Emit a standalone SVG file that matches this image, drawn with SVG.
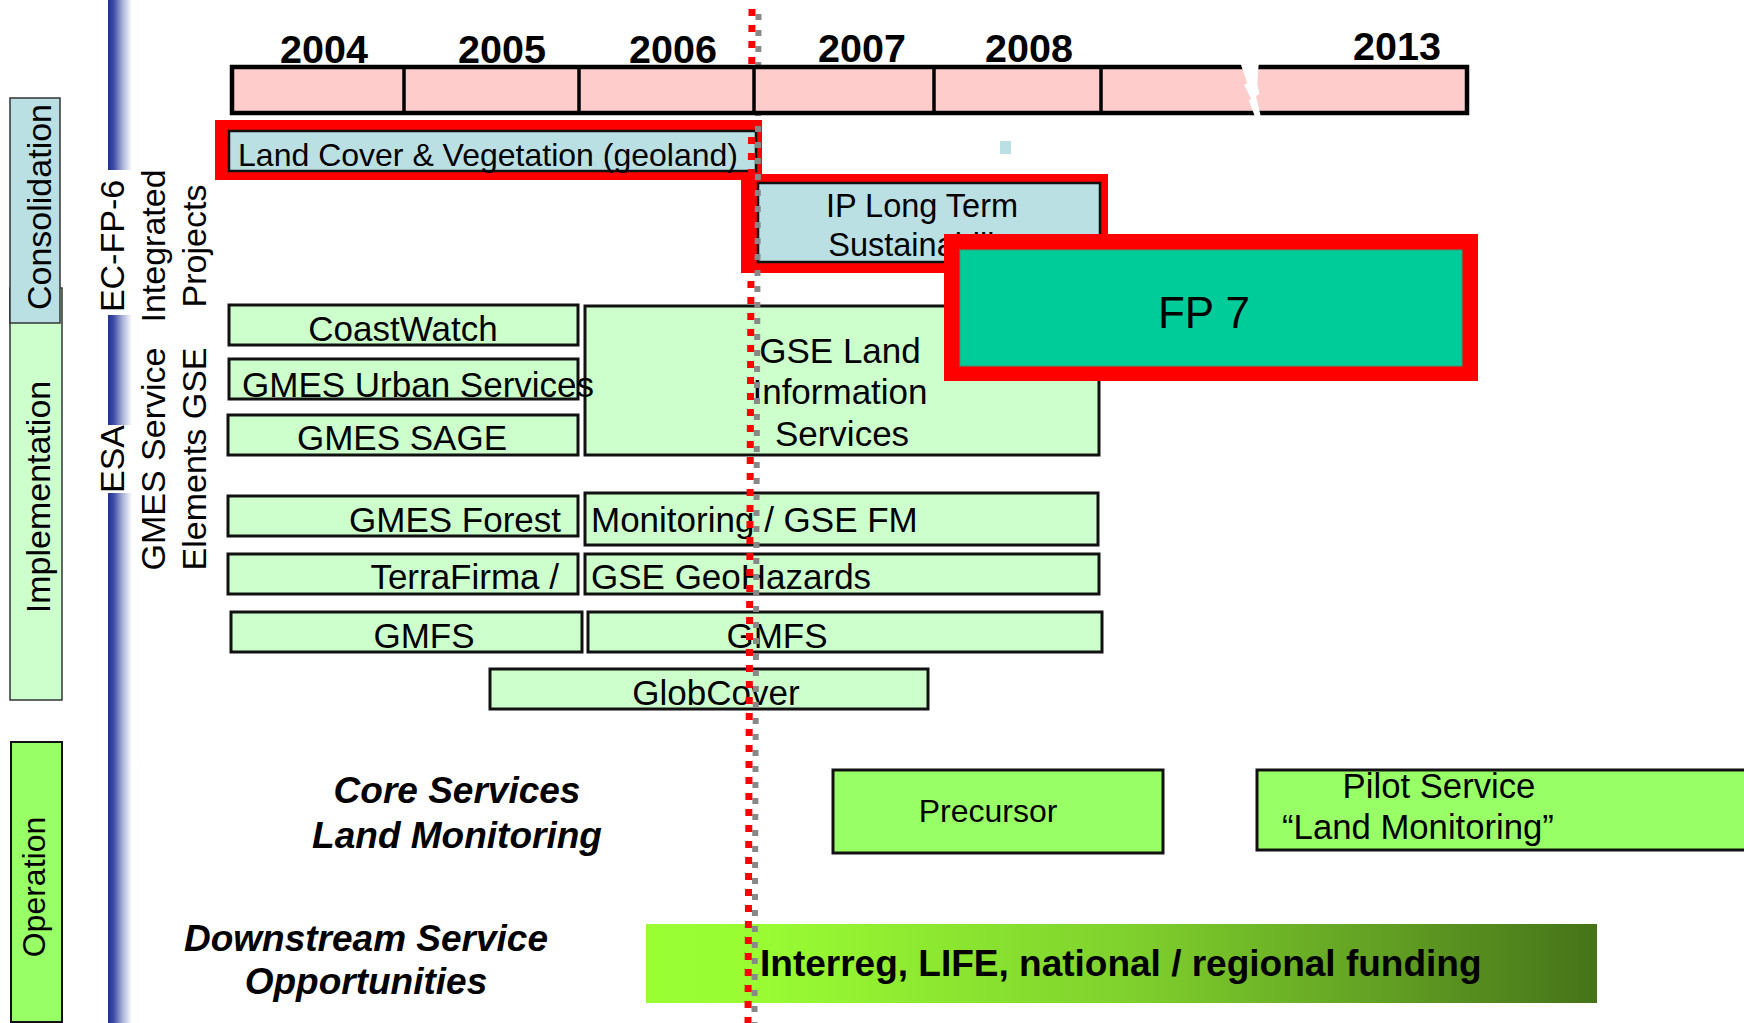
<svg xmlns="http://www.w3.org/2000/svg" width="1744" height="1023" viewBox="0 0 1744 1023">
<defs>
<linearGradient id="blueBar" x1="0" y1="0" x2="1" y2="0">
<stop offset="0" stop-color="#1f3090"/>
<stop offset="0.25" stop-color="#4050a8"/>
<stop offset="0.6" stop-color="#aab1d8"/>
<stop offset="1" stop-color="#ffffff"/>
</linearGradient>
<linearGradient id="fundGrad" x1="0" y1="0" x2="1" y2="0">
<stop offset="0" stop-color="#99ff33"/>
<stop offset="0.12" stop-color="#99fc33"/>
<stop offset="0.5" stop-color="#80d22d"/>
<stop offset="0.8" stop-color="#5f9b22"/>
<stop offset="1" stop-color="#457318"/>
</linearGradient>
<style>
text{font-family:"Liberation Sans",Arial,sans-serif;fill:#000}
.lab{font-size:34px}
.yr{font-size:39.5px;font-weight:bold;text-anchor:middle}
.g{fill:#ccffcc;stroke:#111;stroke-width:3}
.b{fill:#bbe0e3;stroke:#111;stroke-width:2.5}
.op{fill:#99ff66;stroke:#111;stroke-width:3}
.t{font-size:35px}
.m{text-anchor:middle}
.e{text-anchor:end}
.bi{font-size:37px;font-weight:bold;font-style:italic;text-anchor:middle}
.red{fill:#ff0000}
</style>
</defs>
<rect width="1744" height="1023" fill="#ffffff"/>

<g id="phase-bars">
<g id="implementation">
<rect x="10" y="288" width="52" height="412" fill="#ccffcc" stroke="#333" stroke-width="1.5"/>
<text class="lab m" transform="translate(50,497) rotate(-90)">Implementation</text>
</g>
<g id="consolidation">
<rect x="10" y="98" width="50" height="225" fill="#bbe0e3" stroke="#333" stroke-width="1.5"/>
<text class="lab m" transform="translate(51,207) rotate(-90)">Consolidation</text>
</g>
<g id="operation">
<rect x="11" y="742" width="51" height="280" fill="#99ff66" stroke="#111" stroke-width="2"/>
<text class="m" style="font-size:32px" transform="translate(45,887) rotate(-90)">Operation</text>
</g>
</g>

<g id="blue-rule">
<rect x="108" y="0" width="24" height="170" fill="url(#blueBar)"/>
<rect x="108" y="315" width="24" height="110" fill="url(#blueBar)"/>
<rect x="108" y="493" width="24" height="530" fill="url(#blueBar)"/>
</g>

<g id="ec-fp6-label">
<text class="lab m" transform="translate(124,246) rotate(-90)">EC-FP-6</text>
<text class="lab m" transform="translate(165,246) rotate(-90)">Integrated</text>
<text class="lab m" transform="translate(206,246) rotate(-90)">Projects</text>
</g>
<g id="esa-label">
<text class="lab m" transform="translate(124,459) rotate(-90)">ESA</text>
<text class="lab m" transform="translate(165,459) rotate(-90)">GMES Service</text>
<text class="lab m" transform="translate(206,459) rotate(-90)">Elements GSE</text>
</g>

<g id="years">
<text class="yr" x="324" y="63">2004</text>
<text class="yr" x="502" y="63">2005</text>
<text class="yr" x="673" y="63">2006</text>
<text class="yr" x="862" y="62">2007</text>
<text class="yr" x="1029" y="62">2008</text>
<text class="yr" x="1397" y="60">2013</text>
</g>

<g id="land-cover">
<rect class="red" x="215" y="120" width="547" height="60"/>
<rect class="b" x="229" y="131" width="527" height="40"/>
<text x="488" y="166" class="m" style="font-size:32px">Land Cover &amp; Vegetation (geoland)</text>
</g>

<rect id="small-square" x="1000" y="141" width="11" height="13" fill="#bbe0e3"/>

<g id="ip-long-term">
<rect class="red" x="741" y="174" width="367" height="99"/>
<rect class="b" x="758" y="183" width="342" height="79"/>
<text x="922" y="217" class="m" style="font-size:32.5px">IP Long Term</text>
<text x="924" y="256" class="m" style="font-size:32.5px">Sustainability</text>
</g>

<g id="coastwatch">
<rect class="g" x="229" y="305" width="349" height="40"/>
<text class="t m" x="403" y="341">CoastWatch</text>
</g>
<g id="gse-land">
<rect class="g" x="585" y="306" width="514" height="149"/>
<text class="t m" x="840" y="363">GSE Land</text>
<text class="t m" x="840" y="404">Information</text>
<text class="t m" x="842" y="446">Services</text>
</g>

<g id="fp7">
<rect class="red" x="944" y="234" width="534" height="147"/>
<rect x="960" y="250" width="502" height="116" fill="#00cc99" stroke="#3a9a7a" stroke-width="1"/>
<text x="1204" y="328" class="m" style="font-size:44px">FP 7</text>
</g>

<g id="gmes-urban">
<rect class="g" x="229" y="359" width="349" height="40"/>
<text class="t" x="242" y="397">GMES Urban Services</text>
</g>
<g id="gmes-sage">
<rect class="g" x="228" y="415" width="350" height="40"/>
<text class="t m" x="402" y="450">GMES SAGE</text>
</g>
<g id="gmes-forest">
<rect class="g" x="228" y="496" width="350" height="40"/>
<text class="t e" x="561" y="532">GMES Forest</text>
</g>
<g id="gse-fm">
<rect class="g" x="585" y="493" width="513" height="52"/>
<text class="t" x="591" y="532">Monitoring / GSE FM</text>
</g>
<g id="terrafirma">
<rect class="g" x="228" y="554" width="350" height="40"/>
<text class="t e" x="559" y="589">TerraFirma /</text>
</g>
<g id="gse-geohazards">
<rect class="g" x="585" y="554" width="514" height="40"/>
<text class="t" x="591" y="589">GSE GeoHazards</text>
</g>
<g id="gmfs-1">
<rect class="g" x="231" y="612" width="351" height="40"/>
<text class="t m" x="424" y="648">GMFS</text>
</g>
<g id="gmfs-2">
<rect class="g" x="588" y="612" width="514" height="40"/>
<text class="t m" x="777" y="648">GMFS</text>
</g>
<g id="globcover">
<rect class="g" x="490" y="669" width="438" height="40"/>
<text class="t m" x="716" y="705">GlobCover</text>
</g>

<g id="core-services-label">
<text class="bi" x="457" y="803">Core Services</text>
<text class="bi" x="457" y="848">Land Monitoring</text>
</g>
<g id="precursor">
<rect class="op" x="833" y="770" width="330" height="83"/>
<text x="988" y="822" class="m" style="font-size:32px">Precursor</text>
</g>
<g id="pilot-service">
<rect class="op" x="1257" y="770" width="500" height="80"/>
<text x="1439" y="798" class="m" style="font-size:34.7px">Pilot Service</text>
<text x="1418" y="839" class="m" style="font-size:34.7px">“Land Monitoring”</text>
</g>

<g id="downstream-label">
<text class="bi" x="366" y="951">Downstream Service</text>
<text class="bi" x="366" y="994">Opportunities</text>
</g>
<g id="funding">
<rect x="646" y="924" width="951" height="79" fill="url(#fundGrad)"/>
<text x="760" y="976" style="font-size:37px;font-weight:bold">Interreg, LIFE, national / regional funding</text>
</g>

<g id="connectors">
<line x1="758.5" y1="14" x2="754.5" y2="1023" stroke="#888888" stroke-width="6" stroke-dasharray="6 10"/>
<line x1="752" y1="9" x2="748" y2="1023" stroke="#ff0000" stroke-width="7" stroke-dasharray="7 9"/>
</g>

<g id="timeline">
<rect x="232" y="67" width="1235" height="46" fill="#ffcccc" stroke="#000" stroke-width="4.5"/>
<g stroke="#000" stroke-width="3.5">
<line x1="404" y1="67" x2="404" y2="113"/>
<line x1="579" y1="67" x2="579" y2="113"/>
<line x1="754" y1="67" x2="754" y2="113"/>
<line x1="934" y1="67" x2="934" y2="113"/>
<line x1="1101" y1="67" x2="1101" y2="113"/>
</g>
<polygon points="1240.7,64 1258.7,64 1257.3,83.3 1259.3,94 1256,96 1260.7,116 1254.7,116 1248.7,100 1251.3,99.3 1244,84.7 1247.3,83.3" fill="#ffffff"/>
</g>
</svg>
